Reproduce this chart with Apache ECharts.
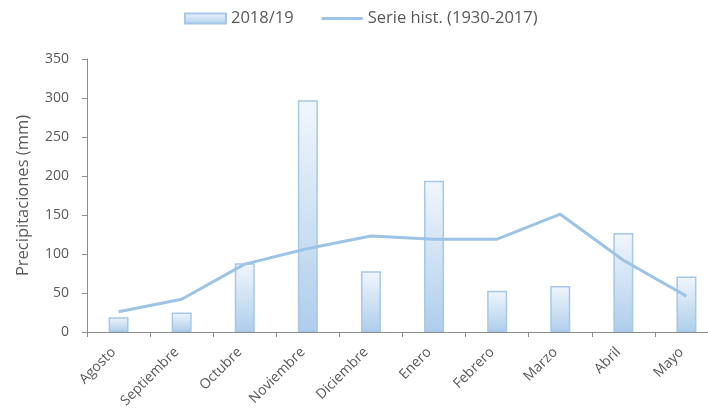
<!DOCTYPE html>
<html>
<head>
<meta charset="utf-8">
<script src="https://cdn.jsdelivr.net/npm/echarts@6/dist/echarts.min.js"></script>
<style>
html, body { margin: 0; padding: 0; background: #fff; }
#chart { width: 708px; height: 417px; }
</style>
</head>
<body>
<div id="chart"></div>
<script>
const months = ["Agosto", "Septiembre", "Octubre", "Noviembre", "Diciembre", "Enero", "Febrero", "Marzo", "Abril", "Mayo"];
const season = [19, 25, 88, 297, 78, 194, 53, 59, 127, 71];
const historic = [26, 42, 87, 107, 123, 119, 119, 151, 92, 46];
const yTicks = [0, 50, 100, 150, 200, 250, 300, 350];

const chart = echarts.init(document.getElementById("chart"));
const txt = "#595959";
const axisCol = "#8c8c8c";

const option = {
  animation: false,
  textStyle: { fontFamily: "Open Sans" },
  legend: {
    top: 5,
    left: 179,
    itemGap: 28,
    itemWidth: 41,
    itemHeight: 10,
    textStyle: { color: txt, fontSize: 16.5, fontFamily: "Open Sans" },
    data: [
      { name: "2018/19", icon: "rect" },
      { name: "Serie hist. (1930-2017)", icon: "path://M0,0H41V3H0Z" }
    ]
  },
  grid: { left: 87, width: 631, top: 59, height: 273, outerBoundsMode: "none" },
  xAxis: {
    type: "category",
    data: months,
    axisLine: { lineStyle: { color: axisCol, width: 1 } },
    axisTick: { show: true, length: 5, lineStyle: { color: axisCol } },
    axisLabel: { rotate: 45, color: txt, fontSize: 14, margin: 13, padding: [0, 7, 0, 0] }
  },
  yAxis: {
    type: "value",
    min: 0,
    max: yTicks[yTicks.length - 1],
    interval: 50,
    name: "Precipitaciones (mm)",
    nameLocation: "middle",
    nameGap: 55,
    nameTextStyle: { color: txt, fontSize: 16.5 },
    axisLine: { show: true, lineStyle: { color: axisCol } },
    axisTick: { show: true, length: 5, lineStyle: { color: axisCol } },
    axisLabel: { color: txt, fontSize: 14, margin: 18 },
    splitLine: { show: false }
  },
  series: [
    {
      name: "2018/19",
      type: "bar",
      data: season,
      barWidth: 20,
      itemStyle: {
        color: new echarts.graphic.LinearGradient(0, 0, 0, 1, [
          { offset: 0, color: "#f1f6fc" },
          { offset: 0.7, color: "#c2daf0" },
          { offset: 1, color: "#aecdec" }
        ]),
        borderColor: "#a5c8ea",
        borderWidth: 1.5
      }
    },
    {
      name: "Serie hist. (1930-2017)",
      type: "line",
      data: historic,
      symbol: "none",
      showSymbol: false,
      lineStyle: { color: "#9dc3e6", width: 3 },
      itemStyle: { color: "#9dc3e6" }
    }
  ]
};
chart.setOption(option);
</script>
</body>
</html>
